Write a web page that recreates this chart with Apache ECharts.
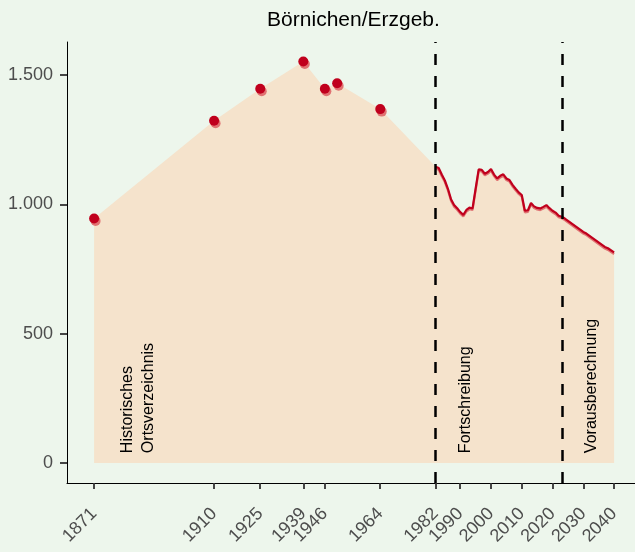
<!DOCTYPE html>
<html lang="de">
<head>
    <meta charset="UTF-8">
    <title>Börnichen/Erzgeb.</title>
    <style>
        * { margin: 0; padding: 0; box-sizing: border-box; }
        body { background: #edf6ec; }
        #chart { width: 635px; height: 552px; }
    </style>
</head>
<body>
    <div id="chart"></div>
    <script src="https://cdn.jsdelivr.net/npm/echarts@6/dist/echarts.min.js"></script>
    <script>
    // Historisches Ortsverzeichnis (Einzelwerte)
    const histYears = [1871, 1910, 1925, 1939, 1946, 1950, 1964];
    const histValues = [945, 1323, 1447, 1552, 1447, 1468, 1368];

    // Fortschreibung (jährlich)
    const fortYears = [1982, 1983, 1984, 1985, 1986, 1987, 1988, 1989, 1990, 1991,
        1992, 1993, 1994, 1995, 1996, 1997, 1998, 1999, 2000, 2001,
        2002, 2003, 2004, 2005, 2006, 2007, 2008, 2009, 2010, 2011,
        2012, 2013, 2014, 2015, 2016, 2017, 2018, 2019, 2020, 2021, 2022];
    const fortValues = [1145, 1140, 1115, 1092, 1060, 1020, 997, 985, 970, 959,
        978, 987, 984, 1060, 1135, 1133, 1118, 1125, 1136, 1115,
        1100, 1110, 1116, 1100, 1094, 1075, 1060, 1046, 1036, 975,
        977, 1005, 992, 986, 984, 990, 997, 985, 975, 968, 956];

    // Vorausberechnung
    const projYears = [2023, 2024, 2030, 2031, 2037, 2038, 2040];
    const projValues = [952, 945, 893, 887, 835, 830, 814];

    const xTicks = [1871, 1910, 1925, 1939, 1946, 1964, 1982, 1990, 2000, 2010, 2020, 2030, 2040];
    const yTicks = [0, 500, 1000, 1500];
    const phaseBreaks = [1982, 2023];

    const annotations = [
        { text: 'Historisches\nOrtsverzeichnis', year: 1885.4, value: 38 },
        { text: 'Fortschreibung', year: 1991.8, value: 38 },
        { text: 'Vorausberechnung', year: 2032.8, value: 38 }
    ];

    const FONT = '"Liberation Sans", Arial, sans-serif';
    const DARK = '#c0001d';
    const LIGHT = '#e07272';

    const zip = (xs, ys) => xs.map((x, i) => [x, ys[i]]);
    const histData = zip(histYears, histValues);
    const lineData = zip(fortYears.concat(projYears), fortValues.concat(projValues));
    const areaData = histData.concat(lineData);

    const fmt = (v) => String(v).replace(/\B(?=(\d{3})+(?!\d))/g, '.');

    const chart = echarts.init(document.getElementById('chart'));

    chart.setOption({
        backgroundColor: '#edf6ec',
        animation: false,
        title: {
            text: 'Börnichen/Erzgeb.',
            left: 353.5,
            top: 10,
            padding: 0,
            textAlign: 'center',
            textStyle: { fontFamily: FONT, fontSize: 21, fontWeight: 'normal', color: '#000' }
        },
        grid: { left: 67, right: 0, top: 42, bottom: 69, outerBoundsMode: 'none', containLabel: false },
        xAxis: {
            type: 'value',
            min: 1862.2,
            max: 2046.8,
            splitLine: { show: false },
            axisLine: { onZero: false, lineStyle: { color: '#000', width: 1 } },
            axisTick: { customValues: xTicks, length: 6, lineStyle: { color: '#333', width: 1.8 } },
            axisLabel: {
                customValues: xTicks,
                formatter: (v) => String(v),
                rotate: 45,
                align: 'right',
                verticalAlign: 'middle',
                margin: 28,
                fontFamily: FONT,
                fontSize: 18,
                color: '#4d4d4d'
            }
        },
        yAxis: {
            type: 'value',
            min: -77.5,
            max: 1627.5,
            splitLine: { show: false },
            axisLine: { show: true, onZero: false, lineStyle: { color: '#000', width: 1 } },
            axisTick: { show: true, customValues: yTicks, length: 7, lineStyle: { color: '#333', width: 1.8 } },
            axisLabel: {
                customValues: yTicks,
                formatter: fmt,
                margin: 14,
                fontFamily: FONT,
                fontSize: 18,
                color: '#4d4d4d'
            }
        },
        series: [
            {
                type: 'line',
                data: areaData,
                symbol: 'none',
                lineStyle: { width: 0 },
                areaStyle: { color: '#f5e3cc', opacity: 1 },
                silent: true,
                z: 1
            },
            {
                type: 'line',
                data: lineData,
                symbol: 'none',
                lineStyle: {
                    color: DARK,
                    width: 2.2,
                    shadowColor: LIGHT,
                    shadowOffsetY: 1.6,
                    shadowBlur: 0
                },
                z: 3
            },
            {
                type: 'scatter',
                data: histData,
                symbolSize: 10,
                itemStyle: {
                    color: DARK,
                    opacity: 1,
                    shadowColor: LIGHT,
                    shadowOffsetX: 1.5,
                    shadowOffsetY: 2.5,
                    shadowBlur: 0
                },
                z: 4
            },
            {
                type: 'line',
                data: [],
                markLine: {
                    silent: true,
                    symbol: 'none',
                    label: { show: false },
                    lineStyle: { color: '#000', type: [11, 11], width: 2.5 },
                    data: phaseBreaks.map((y) => ({ xAxis: y }))
                },
                z: 5
            }
        ]
    });

    chart.setOption({
        graphic: annotations.map((a) => {
            const [x, y] = chart.convertToPixel({ gridIndex: 0 }, [a.year, a.value]);
            return {
                type: 'text',
                x: x,
                y: y,
                rotation: Math.PI / 2,
                z: 10,
                style: {
                    text: a.text,
                    align: 'left',
                    verticalAlign: 'middle',
                    fontFamily: FONT,
                    fontSize: 16,
                    lineHeight: 21,
                    fill: '#000'
                }
            };
        })
    });
    </script>
</body>
</html>
